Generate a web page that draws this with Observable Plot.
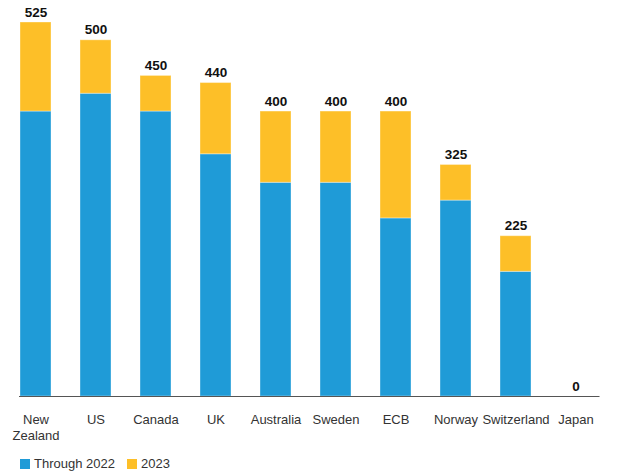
<!DOCTYPE html>
<html>
<head>
<meta charset="utf-8">
<script src="https://cdn.jsdelivr.net/npm/d3@7"></script>
<script src="https://cdn.jsdelivr.net/npm/@observablehq/plot@0.6"></script>
<style>
  body { margin: 0; background: #fff; font-family: "Liberation Sans", Arial, sans-serif; }
  #chart { width: 620px; }
  .legend { display: flex; align-items: center; margin: 4px 0 0 20px; font-size: 13px; color: #333; }
  .sw { width: 10px; height: 10px; display: inline-block; margin-right: 4px; }
  .item { display: flex; align-items: center; margin-right: 12px; }
</style>
</head>
<body>
<div id="chart"></div>
<script>
const categories = ["New Zealand", "US", "Canada", "UK", "Australia", "Sweden", "ECB", "Norway", "Switzerland", "Japan"];
const through2022 = [400, 425, 400, 340, 300, 300, 250, 275, 175, 0];
const in2023 = [125, 75, 50, 100, 100, 100, 150, 50, 50, 0];
const seriesNames = ["Through 2022", "2023"];
const colors = ["#1f9bd7", "#fdbf28"];

const rows = [];
categories.forEach((c, i) => {
  rows.push({country: c, series: seriesNames[0], value: through2022[i]});
  rows.push({country: c, series: seriesNames[1], value: in2023[i]});
});
const totals = categories.map((c, i) => ({country: c, total: through2022[i] + in2023[i]}));

const chart = Plot.plot({
  width: 620,
  height: 452,
  marginTop: 22,
  marginBottom: 56,
  marginLeft: 11.5,
  marginRight: 20.5,
  style: {fontFamily: "Liberation Sans, Arial, sans-serif", fontSize: "13px", color: "#333"},
  x: {domain: categories, paddingInner: 0.485, paddingOuter: 0.126, label: null},
  y: {domain: [0, 525], axis: null},
  color: {domain: seriesNames, range: colors},
  marks: [
    Plot.barY(rows, {x: "country", y: "value", fill: "series", order: seriesNames, stroke: "white", strokeOpacity: 0.35, strokeWidth: 1}),
    Plot.ruleY([0], {stroke: "#555", strokeWidth: 1.2, insetLeft: 7.5}),
    Plot.text(totals, {x: "country", y: "total", text: d => String(d.total), lineAnchor: "bottom", dy: -6, fontWeight: "bold", fontSize: 13.5, fill: "#111"}),
    Plot.axisX({tickSize: 0, tickPadding: 15, fontSize: 13, lineHeight: 1.3, fill: "#333",
      tickFormat: d => d === "New Zealand" ? "New\nZealand" : d})
  ]
});
document.getElementById("chart").appendChild(chart);

const legend = document.createElement("div");
legend.className = "legend";
seriesNames.forEach((s, i) => {
  const it = document.createElement("span");
  it.className = "item";
  const sw = document.createElement("span");
  sw.className = "sw";
  sw.style.background = colors[i];
  it.appendChild(sw);
  it.appendChild(document.createTextNode(s));
  legend.appendChild(it);
});
document.getElementById("chart").appendChild(legend);
</script>
</body>
</html>
